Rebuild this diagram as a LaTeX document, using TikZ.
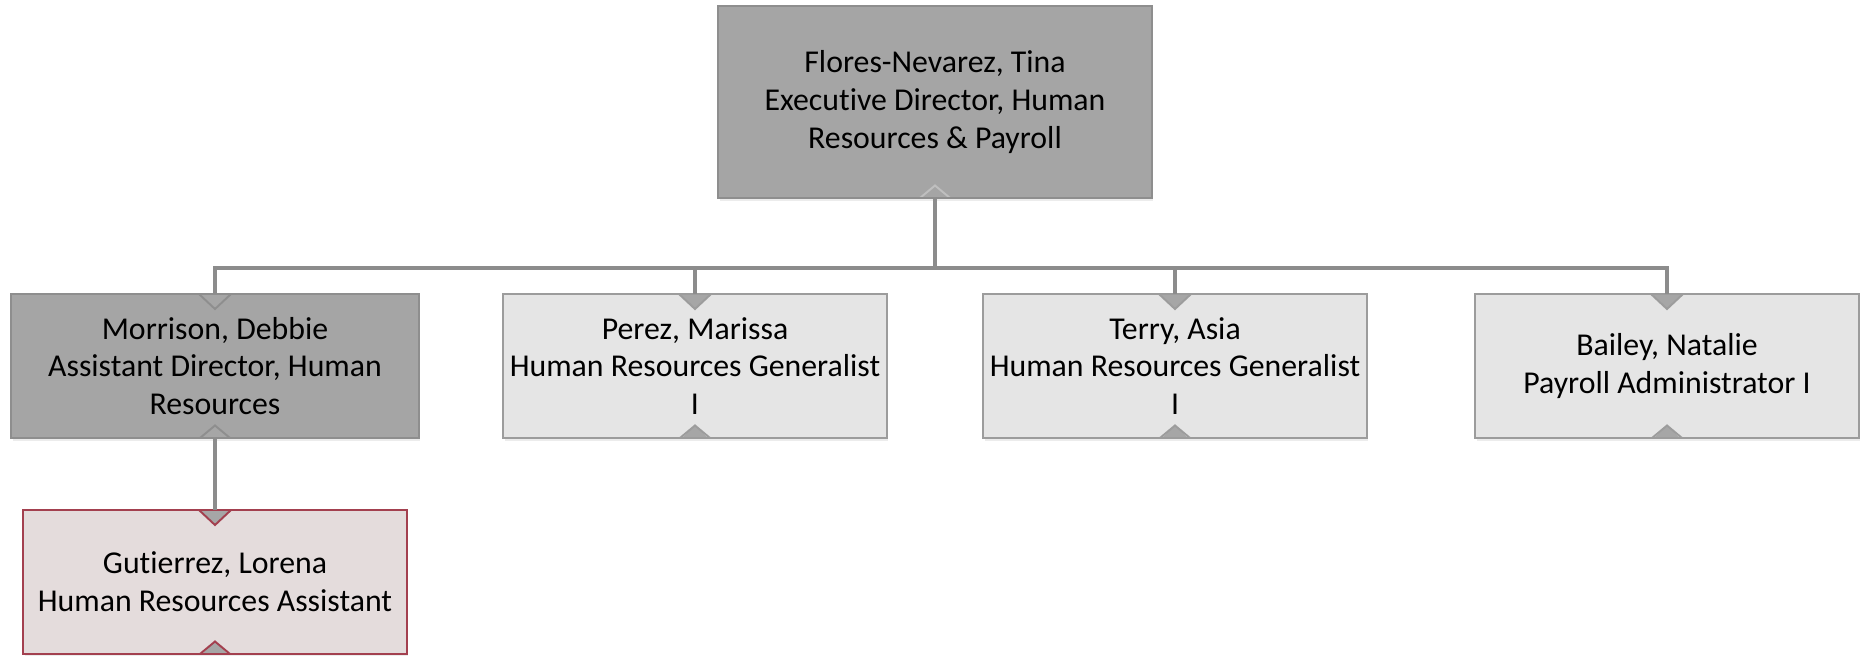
\documentclass[tikz,border=0pt]{standalone}
\usepackage{fontspec}
\setmainfont[Ligatures=CommonOff]{Carlito}
\usetikzlibrary{shadows}

\definecolor{headfill}{HTML}{A5A5A5}
\definecolor{headline}{HTML}{8E8E8E}
\definecolor{stafffill}{HTML}{E5E5E5}
\definecolor{staffline}{HTML}{9C9C9C}
\definecolor{asstfill}{HTML}{E4DCDC}
\definecolor{asstline}{HTML}{A3404F}
\definecolor{linkgray}{HTML}{8C8C8C}
\definecolor{notchgray}{HTML}{A6A6A6}

\tikzset{
  card/.style={draw, line width=1.1pt, inner sep=0pt, outer sep=0pt, align=center,
    font=\fontsize{18.1}{21.5}\selectfont,
    drop shadow={opacity=0.15, shadow xshift=0.03cm, shadow yshift=-0.07cm}},
  % notch at the bottom only
  notchlow/.style 2 args={path picture={
    \path (path picture bounding box.south) coordinate (nb);
    \fill[#1] ([xshift=-0.26cm]nb) -- ([yshift=0.25cm]nb) -- ([xshift=0.26cm]nb) -- cycle;
    \draw[#2, line width=1.1pt] ([xshift=-0.3cm]nb) -- ([yshift=0.25cm]nb) -- ([xshift=0.3cm]nb);}},
  % notch at the top and the bottom
  notchboth/.style={path picture={
    \path (path picture bounding box.south) coordinate (nb);
    \path (path picture bounding box.north) coordinate (nt);
    \fill[notchgray] ([xshift=-0.26cm]nb) -- ([yshift=0.25cm]nb) -- ([xshift=0.26cm]nb) -- cycle;
    \draw[#1, line width=1.1pt] ([xshift=-0.3cm]nb) -- ([yshift=0.25cm]nb) -- ([xshift=0.3cm]nb);
    \fill[notchgray] ([xshift=-0.3cm]nt) -- ([yshift=-0.3cm]nt) -- ([xshift=0.3cm]nt) -- cycle;
    \draw[#1, line width=1.1pt] ([xshift=-0.32cm]nt) -- ([yshift=-0.3cm]nt) -- ([xshift=0.32cm]nt);}},
  head/.style={card, fill=headfill, draw=headline},
  staff/.style={card, fill=stafffill, draw=staffline, notchboth=staffline,
    minimum width=7.68cm, minimum height=2.88cm},
  asst/.style={card, fill=asstfill, draw=asstline, notchboth=asstline,
    minimum width=7.68cm, minimum height=2.88cm},
  link/.style={draw=linkgray, line width=2pt, line join=miter}
}

\begin{document}
\begin{tikzpicture}[x=0.02cm, y=-0.02cm]
  \useasboundingbox (0,0) rectangle (1860,656);

  \node[head, notchlow={headfill}{black!25}, minimum width=8.68cm, minimum height=3.84cm]
    (tina) at (935,102) {Flores-Nevarez, Tina\\Executive Director, Human\\Resources \& Payroll};

  \node[head, notchboth=headline, minimum width=8.16cm, minimum height=2.88cm]
    (morrison) at (215,366) {Morrison, Debbie\\Assistant Director, Human\\Resources};
  \node[staff] (perez) at (695,366) {Perez, Marissa\\Human Resources Generalist\\I};
  \node[staff] (terry) at (1175,366) {Terry, Asia\\Human Resources Generalist\\I};
  \node[staff] (bailey) at (1667,366) {Bailey, Natalie\\Payroll Administrator I};

  \node[asst] (gutierrez) at (215,582) {Gutierrez, Lorena\\Human Resources Assistant};

  % connectors
  \coordinate (bus) at (935,268);
  \draw[link] (tina.south) -- (bus);
  \foreach \n in {morrison,perez,terry,bailey}
    \draw[link] (bus) -| (\n.north);
  \draw[link] (morrison.south) -- (gutierrez.north);
\end{tikzpicture}
\end{document}
